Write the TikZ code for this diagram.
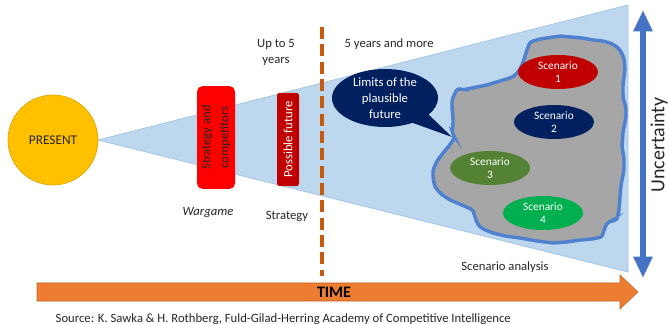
\documentclass[tikz,border=0pt]{standalone}
\usepackage{fontspec}
\setmainfont{Carlito}
\usetikzlibrary{shapes.geometric,shapes.callouts,arrows.meta}

\definecolor{txtgray}{HTML}{262626}
\definecolor{gold}{HTML}{FFC000}
\definecolor{goldedge}{HTML}{D9A400}
\definecolor{conefill}{HTML}{BDD7EE}
\definecolor{coneedge}{HTML}{9DC3E6}
\definecolor{brightred}{HTML}{FF0000}
\definecolor{darkred}{HTML}{C00000}
\definecolor{rust}{HTML}{C55A11}
\definecolor{navy}{HTML}{002060}
\definecolor{blobgray}{HTML}{A6A6A6}
\definecolor{blobedge}{HTML}{4F81CF}
\definecolor{olive}{HTML}{548235}
\definecolor{leaf}{HTML}{00B050}
\definecolor{steel}{HTML}{4472C4}
\definecolor{timeorange}{HTML}{ED7D31}

\tikzset{
  every node/.style={text=txtgray,font=\fontsize{9.5}{12}\selectfont},
  scen/.style={ellipse,minimum width=60pt,minimum height=25.5pt,inner sep=0pt,
    text=white,align=center,font=\fontsize{8.5}{10}\selectfont},
  vbox/.style={rotate=90,align=center,inner sep=0pt,font=\fontsize{9.5}{13.5}\selectfont}
}

\begin{document}
\begin{tikzpicture}[x=0.75pt,y=0.75pt,yscale=-1,xscale=1]
\useasboundingbox (0,0) rectangle (668,324);

%Shape: Cone
\coordinate (apex) at (98,140);
\coordinate (conetop) at (628,5);
\coordinate (conebot) at (628,272);
\draw[coneedge,fill=conefill,line width=0.5pt] (apex) -- (conetop) -- (conebot) -- cycle;

%Shape: Circle
\node[circle,fill=gold,draw=goldedge,line width=0.5pt,minimum size=67.5pt,inner sep=0pt,
  font=\fontsize{10}{12}\selectfont] (present) at (53,140) {PRESENT};

%Shape: Rounded boxes
\node[vbox,fill=brightred,minimum width=77pt,minimum height=28.5pt,rounded corners=4pt] (wargamebox) at (216,137.5) {Strategy and\\competitors};
\node[vbox,fill=darkred,text=white,minimum width=70pt,minimum height=16.5pt,rounded corners=2pt] (futurebox) at (288,139.5) {Possible future};

%Straight Lines: dashed limit
\coordinate (dashtop) at (322,27);
\coordinate (dashbot) at (322,276);
\draw[rust,line width=3pt,dash pattern=on 9pt off 4pt] (dashtop) -- (dashbot);

%Shape: Blob
\draw[blobedge,fill=blobgray,line width=2.6pt,rounded corners=2pt]
  (530,42) -- (540,39) -- (547,38) -- (560,36) -- (570,37) -- (582,38) -- (593,40)
  -- (603,41) -- (610,43) -- (616,46) -- (620,50) -- (624,58) -- (625,70) -- (623,84)
  -- (623,97) -- (626,108) -- (626,117) -- (623,132) -- (622,147) -- (624,158)
  -- (624,170) -- (621,185) -- (620,197) -- (619,210) -- (617,220) -- (611,221)
  -- (607,223) -- (604,230) -- (602,237) -- (592,239) -- (580,240) -- (567,242)
  -- (553,243) -- (537,241) -- (520,238) -- (505,236) -- (493,233) -- (483,229)
  -- (478,225) -- (475,217) -- (473,210) -- (462,205) -- (450,200) -- (441,194)
  -- (435,187) -- (433,178) -- (433,170) -- (437,161) -- (443,153) -- (449,146)
  -- (453,140) -- (455,137) -- (452,133) -- (453,125) -- (453,117) -- (452,108)
  -- (452,100) -- (455,93) -- (458,88) -- (462,90) -- (472,88) -- (487,85)
  -- (500,81) -- (513,77) -- (519,71) -- (523,63) -- (525,56) -- (527,50) -- cycle;

%Shape: Scenario ellipses
\node[scen,fill=darkred] (scen1) at (558,72) {Scenario\\1};
\node[scen,fill=navy] (scen2) at (554,122) {Scenario\\2};
\node[scen,fill=olive] (scen3) at (490,168) {Scenario\\3};
\node[scen,fill=leaf] (scen4) at (543,213) {Scenario\\4};

%Shape: Callout
\coordinate (calltip) at (452,137);
\node[ellipse callout,fill=navy,text=white,align=center,inner sep=0pt,
  minimum width=79.5pt,minimum height=43.5pt,callout pointer arc=24,
  callout absolute pointer=(calltip)] (limits) at (385,98) {Limits of the\\plausible\\future};

%Shape: Uncertainty arrow
\coordinate (utop) at (643,10);
\coordinate (ubot) at (643,278);
\draw[steel,line width=4pt,{Triangle[width=13.5pt,length=16pt]}-{Triangle[width=13.5pt,length=16pt]}] (utop) -- (ubot);
\node[rotate=90,font=\fontsize{15}{18}\selectfont] (uncert) at (659,145) {Uncertainty};

%Shape: Time arrow
\draw[fill=timeorange,draw=timeorange!80!black,line width=0.4pt]
  (37,283) -- (620,283) -- (620,275) -- (638,292) -- (620,309) -- (620,301) -- (37,301) -- cycle;
\node[font=\bfseries\fontsize{12}{14}\selectfont,text=black] (time) at (334,292) {TIME};

% Text Node
\node[align=center] (upto) at (276,52) {Up to 5\\years};
% Text Node
\node[anchor=west] (more) at (340,44) {5 years and more};
% Text Node
\node[font=\itshape\fontsize{9.5}{12}\selectfont] (wargame) at (208,213) {Wargame};
% Text Node
\node (strategy) at (287,216) {Strategy};
% Text Node
\node (analysis) at (505,267) {Scenario analysis};
% Text Node
\node[anchor=west,font=\fontsize{9.5}{11}\selectfont] (source) at (51,319) {Source: K. Sawka \& H. Rothberg, Fuld-Gilad-Herring Academy of Competitive Intelligence};

\end{tikzpicture}
\end{document}
